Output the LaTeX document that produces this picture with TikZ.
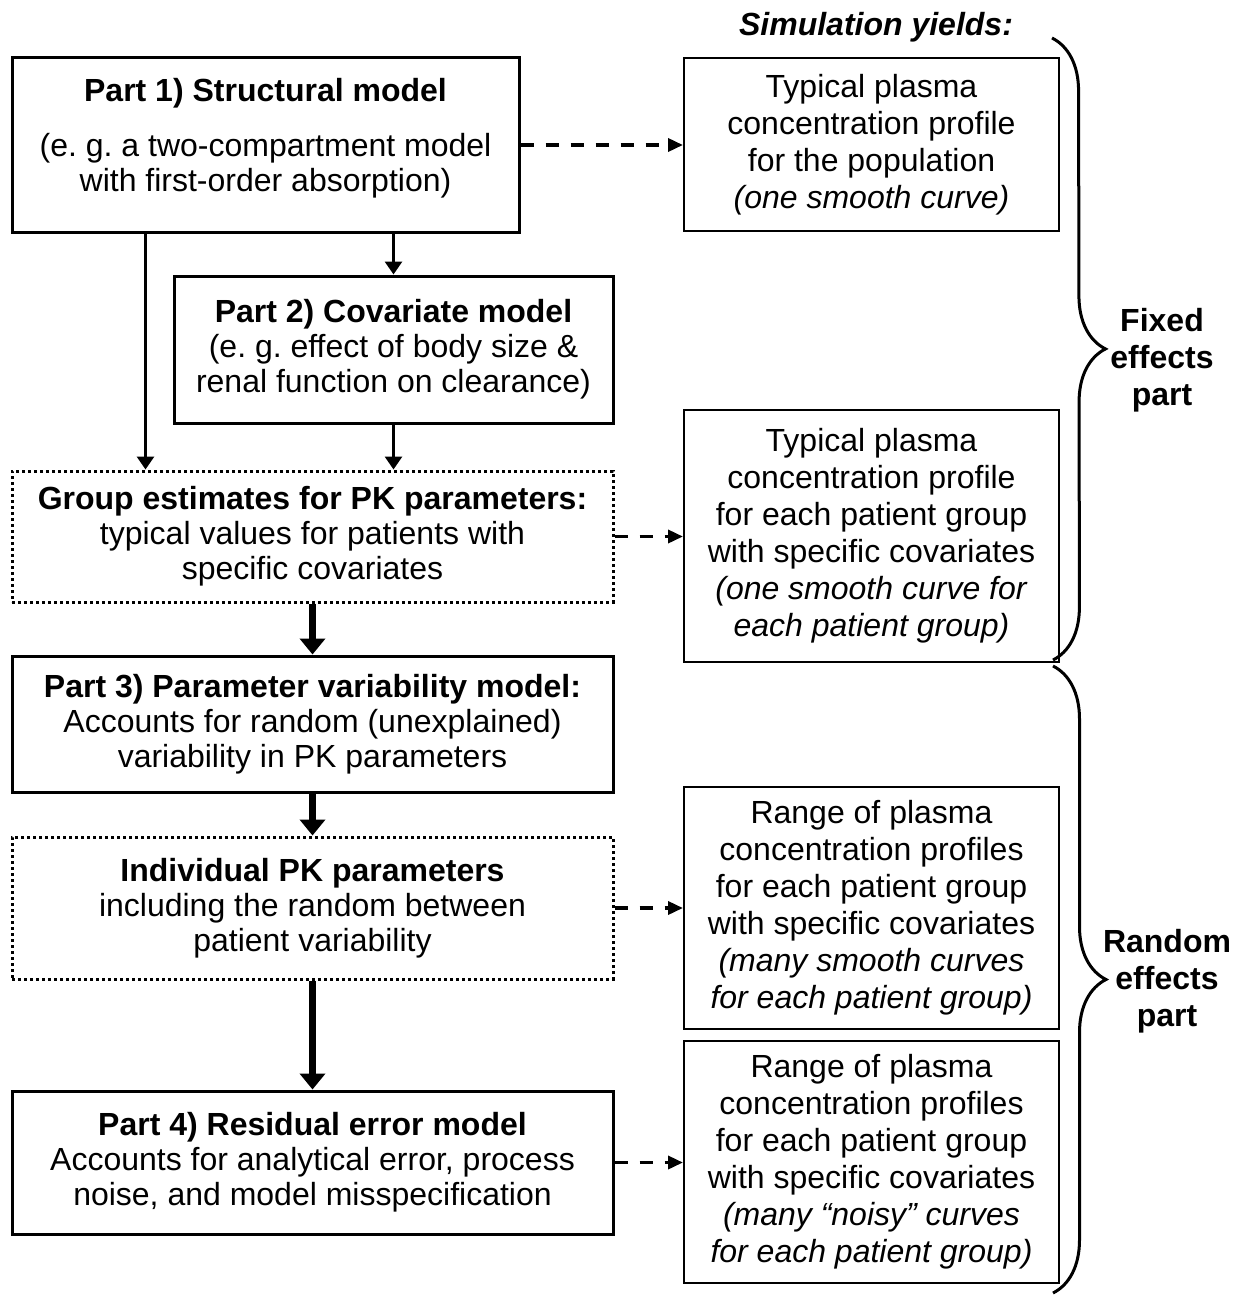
\documentclass[tikz,border=0pt]{standalone}
\usepackage{fontspec}
\setmainfont{Liberation Sans}
\frenchspacing
\usetikzlibrary{arrows.meta,decorations.pathreplacing}

\newcommand{\modelfont}{\fontsize{32}{35}\selectfont}
\newcommand{\yieldfont}{\fontsize{32}{37}\selectfont}
\newcommand{\lowgap}[1]{\rule[-#1]{0pt}{0pt}}

\tikzset{
	model/.style={draw, line width=3pt, align=center, inner sep=0pt, font=\modelfont},
	estimate/.style={model, line width=3pt, dash pattern=on 3pt off 3pt},
	yield/.style={draw, line width=2pt, align=center, inner sep=0pt, font=\yieldfont, minimum width=375pt},
	flow/.style={line width=3pt, -{Triangle[length=13pt,width=17pt]}},
	bigflow/.style={line width=7pt, -{Triangle[length=16pt,width=25pt]}},
	simflow/.style={line width=3.5pt, dash pattern=on 13pt off 12pt, -{Triangle[length=15pt,width=13pt]}},
	curly/.style={line width=3pt, decorate, decoration={brace, amplitude=53pt}},
	sidelabel/.style={align=center, font=\yieldfont\bfseries}
}

\begin{document}
	\begin{tikzpicture}[x=1pt, y=-1pt]
		\useasboundingbox (0,0) rectangle (1245,1295);
		% Model parts (left column)
		\node[model, minimum width=507pt, minimum height=174pt] (s1) at (265.5,145) {\textbf{Part 1) Structural model}\\[20pt](e. g. a two-compartment model\\with first-order absorption)\lowgap{21pt}};
		\node[model, minimum width=439pt, minimum height=147pt] (s2) at (393.5,349.5) {\textbf{Part 2) Covariate model}\\(e. g. effect of body size \&\\renal function on clearance)};
		\node[estimate, minimum width=601pt, minimum height=131pt] (grp) at (312.5,536.5) {\textbf{Group estimates for PK parameters:}\\typical values for patients with\\specific covariates};
		\node[model, minimum width=601pt, minimum height=136pt] (s3) at (312.5,724) {\textbf{Part 3) Parameter variability model:}\\Accounts for random (unexplained)\\variability in PK parameters};
		\node[estimate, minimum width=601pt, minimum height=142pt] (ind) at (312.5,908) {\textbf{Individual PK parameters}\\including the random between\\patient variability};
		\node[model, minimum width=601pt, minimum height=143pt] (s4) at (312.5,1162.5) {\textbf{Part 4) Residual error model}\\Accounts for analytical error, process\\noise, and model misspecification};
		
		% Simulation results (right column)
		\node[font=\yieldfont\bfseries\itshape] (sim) at (876,27) {Simulation yields:};
		\node[yield, minimum height=173pt] (r1) at (871.5,144.5) {Typical plasma\\concentration profile\\for the population\\\textit{(one smooth curve)}};
		\node[yield, minimum height=252pt] (r2) at (871.5,536) {Typical plasma\\concentration profile\\for each patient group\\with specific covariates\\\textit{(one smooth curve for}\\\textit{each patient group)}};
		\node[yield, minimum height=242pt] (r3) at (871.5,908) {Range of plasma\\concentration profiles\\for each patient group\\with specific covariates\\\textit{(many smooth curves}\\\textit{for each patient group)}};
		\node[yield, minimum height=242pt] (r4) at (871.5,1162) {Range of plasma\\concentration profiles\\for each patient group\\with specific covariates\\\textit{(many “noisy” curves}\\\textit{for each patient group)}};
		
		\draw[flow] ([xshift=135pt]s1.south west) -- ([xshift=135pt]grp.north west);
		\draw[flow] (s1.south -| s2.north) -- (s2.north);
		\draw[flow] (s2.south) -- (s2.south |- grp.north);
		\draw[bigflow] (grp) -- (s3);
		\draw[bigflow] (s3) -- (ind);
		\draw[bigflow] (ind) -- (s4);
		
		\draw[simflow] (s1.east) -- (s1.east -| r1.west);
		\draw[simflow] (grp.east) -- (grp.east -| r2.west);
		\draw[simflow] (ind.east) -- (ind.east -| r3.west);
		\draw[simflow] (s4.east) -- (s4.east -| r4.west);
		
		% Braces
		\coordinate (fxtop) at (1052,38);
		\coordinate (fxbot) at (1053,660);
		\coordinate (rdtop) at (1053,666);
		\coordinate (rdbot) at (1053,1293);
		\draw[curly] (fxtop) -- (fxbot);
		\draw[curly] (rdtop) -- (rdbot);
		\node[sidelabel] (fixed) at (1162,360) {Fixed\\effects\\part};
		\node[sidelabel] (random) at (1167,981) {Random\\effects\\part};
	\end{tikzpicture}
\end{document}
